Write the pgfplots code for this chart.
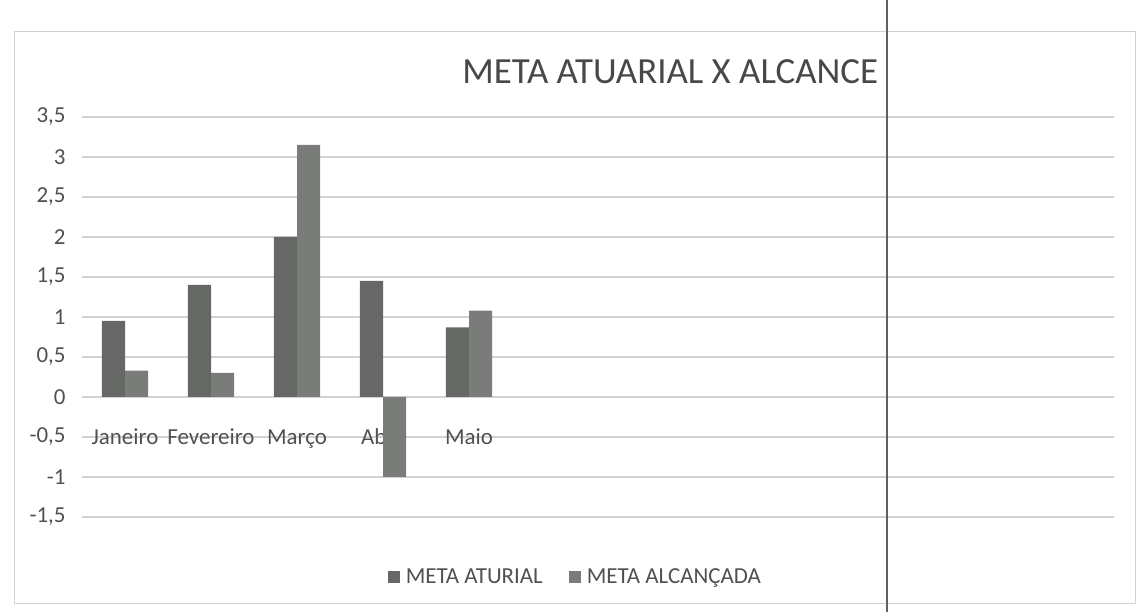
\documentclass[border=0pt]{standalone}
\usepackage{pgfplots}
\pgfplotsset{compat=1.18}
\usepackage{fontspec}
\setmainfont{Carlito}
\definecolor{barA}{HTML}{656864}
\definecolor{barB}{HTML}{7A7C79}
\definecolor{gridc}{HTML}{D2D2D2}
\definecolor{txt}{HTML}{505050}
\begin{document}
\begin{tikzpicture}
\draw[gray!35, line width=1bp] (-67bp,-86bp) rectangle (1053bp,485bp);
\begin{axis}[
  set layers,
  at={(0,0)}, anchor=south west, scale only axis,
  width=1032bp, height=400bp,
  xmin=-0.5, xmax=11.5, ymin=-1.5, ymax=3.5,
  ytick={-1.5,-1,-0.5,0,0.5,1,1.5,2,2.5,3,3.5},
  yticklabel={\pgfmathprintnumber{\tick}},
  /pgf/number format/use comma,
  /pgf/number format/fixed,
  /pgf/number format/assume math mode=true,
  xtick={0,1,2,3,4,5,6,7,8,9,10,11},
  xticklabels={Janeiro,Fevereiro,Março,Abril,Maio,{},{},{},{},{},{},{}},
  typeset ticklabels with strut,
  tick label style={font=\fontsize{23}{26}\selectfont, text=txt},
  yticklabel style={anchor=east, xshift=-13bp},
  xticklabel style={anchor=north, yshift=94bp},
  ymajorgrids, grid style={gridc, line width=1.2bp},
  axis line style={draw=none}, major tick length=0pt,
  ybar, bar width=0.27,
  title={META ATUARIAL X ALCANCE},
  title style={at={(axis description cs:0.57,1.0975)}, anchor=center, font=\fontsize{37}{42}\selectfont, text=txt!90!black},
  legend style={at={(axis description cs:0.478,-0.15)}, anchor=center, draw=none, fill=none,
    legend columns=2, font=\fontsize{23}{26}\selectfont, text=txt,
    /tikz/every odd column/.append style={column sep=4bp},
    /tikz/every even column/.append style={column sep=24bp}},
  legend image code/.code={\fill[#1] (0bp,-6bp) rectangle (12bp,6bp);},
]
\addplot[fill=barA, draw=none, bar shift=-0.135] coordinates {(0,0.95) (1,1.4) (2,2.0) (3,1.45) (4,0.87)};
\addplot[fill=barB, draw=none, bar shift=0.135] coordinates {(0,0.33) (1,0.3) (2,3.15) (3,-1.0) (4,1.08)};
\legend{META ATURIAL, META ALCANÇADA}
\end{axis}
\draw[gray!75!black, line width=1.5bp] (805bp,-95bp) -- (805bp,517bp);
\pgfresetboundingbox
\useasboundingbox (-82bp,-95bp) rectangle (1056bp,517bp);
\end{tikzpicture}
\end{document}
